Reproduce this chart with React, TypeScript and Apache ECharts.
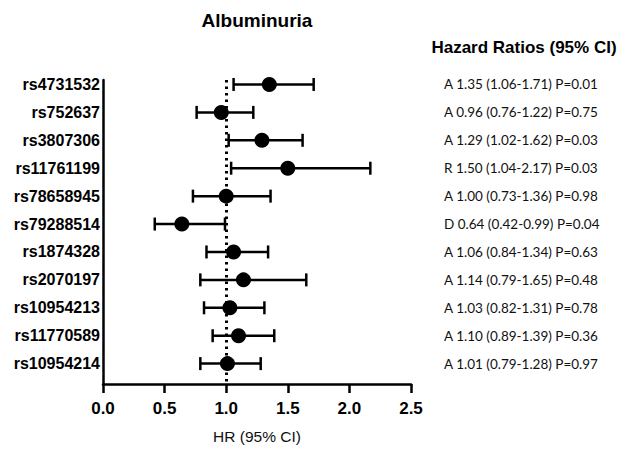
import React, { useEffect, useRef } from "react";
import * as echarts from "echarts";

const snps = [
  "rs4731532", "rs752637", "rs3807306", "rs11761199", "rs78658945", "rs79288514",
  "rs1874328", "rs2070197", "rs10954213", "rs11770589", "rs10954214",
];
const models = ["A", "A", "A", "R", "A", "D", "A", "A", "A", "A", "A"];
const hr = [1.35, 0.96, 1.29, 1.5, 1.0, 0.64, 1.06, 1.14, 1.03, 1.1, 1.01];
const lower = [1.06, 0.76, 1.02, 1.04, 0.73, 0.42, 0.84, 0.79, 0.82, 0.89, 0.79];
const upper = [1.71, 1.22, 1.62, 2.17, 1.36, 0.99, 1.34, 1.65, 1.31, 1.39, 1.28];
const pvals = ["0.01", "0.75", "0.03", "0.03", "0.98", "0.04", "0.63", "0.48", "0.78", "0.36", "0.97"];
const xTicks = [0, 0.5, 1.0, 1.5, 2.0, 2.5];

const rowIdx = snps.map((_, i) => i);
const hrText = rowIdx.map(
  (i) => `${models[i]} ${hr[i].toFixed(2)} (${lower[i].toFixed(2)}-${upper[i].toFixed(2)}) P=${pvals[i]}`
);

export default function App() {
  const ref = useRef<HTMLDivElement>(null);
  useEffect(() => {
    if (!ref.current) return;
    const chart = echarts.init(ref.current, null, { renderer: "svg" });
    const yRange = { min: -0.16, max: 10.73 };
    chart.setOption({
      animation: false,
      backgroundColor: "#fff",
      grid: { left: 103, right: 207, top: 80, bottom: 60 },
      graphic: [
        {
          type: "text",
          x: 257,
          y: 20,
          style: {
            text: "Albuminuria",
            font: "bold 19px Arial, 'Liberation Sans', sans-serif",
            fill: "#000",
            textAlign: "center",
            textVerticalAlign: "middle",
          },
        },
        {
          type: "text",
          x: 524,
          y: 47,
          style: {
            text: "Hazard Ratios (95% CI)",
            font: "bold 17px Arial, 'Liberation Sans', sans-serif",
            fill: "#000",
            textAlign: "center",
            textVerticalAlign: "middle",
          },
        },
      ],
      xAxis: {
        type: "value",
        min: 0,
        max: 2.5,
        interval: 0.5,
        name: "HR (95% CI)",
        nameLocation: "middle",
        nameGap: 44,
        nameTextStyle: { fontFamily: "Arial, 'Liberation Sans', sans-serif", fontSize: 15.5, color: "#111" },
        axisLine: { show: true, onZero: false, lineStyle: { color: "#000", width: 2.5 } },
        axisTick: { show: true, length: 9, lineStyle: { color: "#000", width: 2.5 } },
        splitLine: { show: false },
        axisLabel: {
          margin: 16,
          fontFamily: "Arial, 'Liberation Sans', sans-serif",
          fontWeight: "bold",
          fontSize: 17,
          color: "#000",
          customValues: xTicks,
          formatter: (v: number) => v.toFixed(1),
        },
      },
      yAxis: [
        {
          type: "value",
          inverse: true,
          ...yRange,
          axisLine: { show: true, onZero: false, lineStyle: { color: "#000", width: 2.5 } },
          axisTick: { show: false },
          splitLine: { show: false },
          axisLabel: {
            margin: 3,
            fontFamily: "Arial, 'Liberation Sans', sans-serif",
            fontWeight: "bold",
            fontSize: 16,
            color: "#000",
            customValues: rowIdx,
            formatter: (v: number) => snps[Math.round(v)] ?? "",
          },
        },
        {
          type: "value",
          inverse: true,
          position: "right",
          ...yRange,
          axisLine: { show: false },
          axisTick: { show: false },
          splitLine: { show: false },
          axisLabel: {
            margin: 33,
            align: "left",
            fontFamily: "Lato, 'Open Sans', sans-serif",
            fontSize: 13.5,
            color: "#111",
            customValues: rowIdx,
            formatter: (v: number) => hrText[Math.round(v)] ?? "",
          },
        },
      ],
      series: [
        {
          type: "custom",
          xAxisIndex: 0,
          yAxisIndex: 0,
          data: rowIdx.map((i) => [lower[i], upper[i], i]),
          encode: { x: [0, 1], y: 2 },
          renderItem: (params: any, api: any) => {
            const p1 = api.coord([api.value(0), api.value(2)]);
            const p2 = api.coord([api.value(1), api.value(2)]);
            const h = 6.5;
            const style = { stroke: "#000", lineWidth: 2.5 };
            return {
              type: "group",
              children: [
                { type: "line", shape: { x1: p1[0], y1: p1[1], x2: p2[0], y2: p2[1] }, style },
                { type: "line", shape: { x1: p1[0], y1: p1[1] - h, x2: p1[0], y2: p1[1] + h }, style },
                { type: "line", shape: { x1: p2[0], y1: p2[1] - h, x2: p2[0], y2: p2[1] + h }, style },
              ],
            };
          },
          z: 2,
        },
        {
          type: "scatter",
          xAxisIndex: 0,
          yAxisIndex: 0,
          data: rowIdx.map((i) => [hr[i], i]),
          symbol: "circle",
          symbolSize: 15,
          itemStyle: { color: "#000", opacity: 1 },
          z: 3,
          markLine: {
            silent: true,
            symbol: "none",
            label: { show: false },
            lineStyle: { color: "#000", width: 3, type: [2.5, 4] },
            data: [{ xAxis: 1 }],
          },
        },
      ],
    });
    return () => chart.dispose();
  }, []);
  return (
    <div
      ref={ref}
      style={{ position: "absolute", left: 0, top: 0, width: 618, height: 449 }}
    />
  );
}
